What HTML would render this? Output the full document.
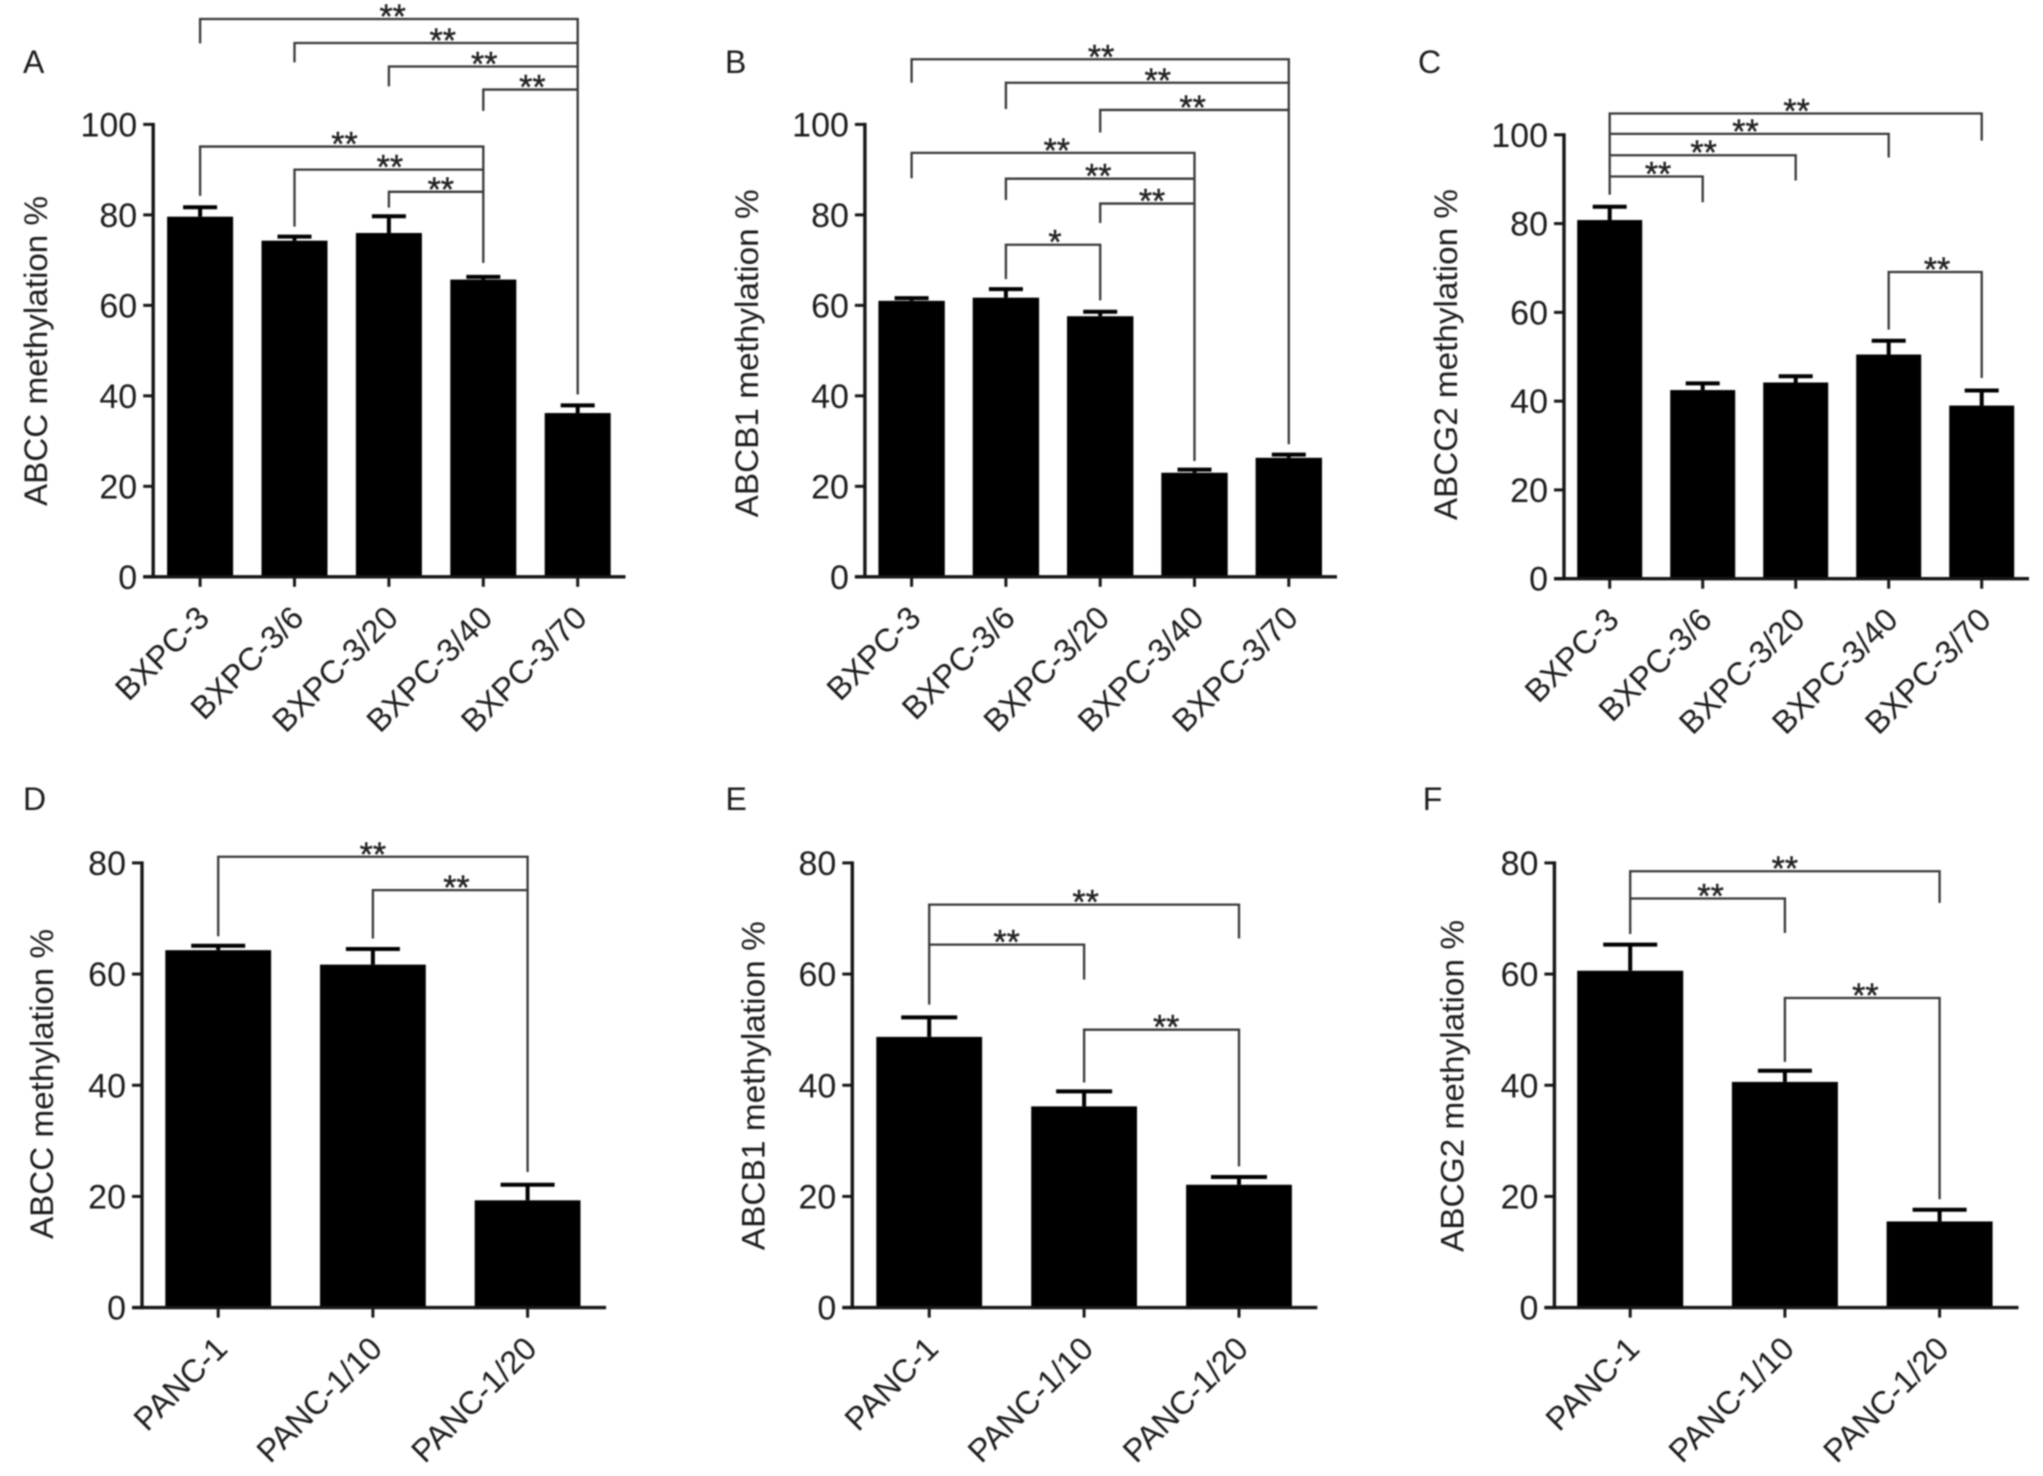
<!DOCTYPE html>
<html lang="en">
<head>
<meta charset="utf-8">
<title>Methylation of ABC transporters in BXPC-3 and PANC-1 lines</title>
<style>
  html, body { margin: 0; padding: 0; background: #fff; }
  #figure { display: block; width: 2043px; height: 1476px; filter: blur(0.7px); font-family: "Liberation Sans", Arial, sans-serif; }
</style>
</head>
<body>
<svg id="figure" xmlns="http://www.w3.org/2000/svg" width="2043" height="1476" viewBox="0 0 2043 1476"></svg>
<script>
// ---------- Data ----------
const bxpcCategories = ['BXPC-3', 'BXPC-3/6', 'BXPC-3/20', 'BXPC-3/40', 'BXPC-3/70'];
const pancCategories = ['PANC-1', 'PANC-1/10', 'PANC-1/20'];
const bxpcTicks = [0, 20, 40, 60, 80, 100];
const pancTicks = [0, 20, 40, 60, 80];

const abccBxpcValues = [79.6, 74.3, 76.0, 65.7, 36.2];
const abccBxpcErrorTops = [81.7, 75.2, 79.7, 66.3, 37.9];
const abcb1BxpcValues = [61.0, 61.7, 57.6, 23.0, 26.3];
const abcb1BxpcErrorTops = [61.6, 63.6, 58.6, 23.7, 27.0];
const abcg2BxpcValues = [80.8, 42.5, 44.2, 50.5, 39.0];
const abcg2BxpcErrorTops = [83.8, 44.0, 45.6, 53.6, 42.4];
const abccPancValues = [64.3, 61.7, 19.3];
const abccPancErrorTops = [65.1, 64.5, 22.1];
const abcb1PancValues = [48.7, 36.2, 22.1];
const abcb1PancErrorTops = [52.2, 38.9, 23.5];
const abcg2PancValues = [60.6, 40.6, 15.5];
const abcg2PancErrorTops = [65.3, 42.6, 17.6];

// Significance brackets: category indexes, and heights in axis units.
const abccBxpcBrackets = [
  { from: 0, to: 4, level: 123.3, fromEnd: 117.9, toEnd: 40.3, mark: '**', at: 2.04 },
  { from: 1, to: 4, level: 118.0, fromEnd: 113.7, mark: '**', at: 2.57 },
  { from: 2, to: 4, level: 112.8, fromEnd: 108.4, mark: '**', at: 3.01 },
  { from: 3, to: 4, level: 107.7, fromEnd: 103.0, mark: '**', at: 3.52 },
  { from: 0, to: 3, level: 95.1, fromEnd: 84.2, toEnd: 69.4, mark: '**', at: 1.53 },
  { from: 1, to: 3, level: 90.0, fromEnd: 77.4, mark: '**', at: 2.01 },
  { from: 2, to: 3, level: 85.1, fromEnd: 81.6, mark: '**', at: 2.55 }
];
const abcb1BxpcBrackets = [
  { from: 0, to: 4, level: 114.4, fromEnd: 109.2, toEnd: 29.3, mark: '**', at: 2.01 },
  { from: 1, to: 4, level: 109.2, fromEnd: 103.4, mark: '**', at: 2.61 },
  { from: 2, to: 4, level: 103.2, fromEnd: 98.2, mark: '**', at: 2.98 },
  { from: 0, to: 3, level: 93.7, fromEnd: 88.1, toEnd: 25.6, mark: '**', at: 1.54 },
  { from: 1, to: 3, level: 88.0, fromEnd: 83.3, mark: '**', at: 1.98 },
  { from: 2, to: 3, level: 82.5, fromEnd: 78.2, mark: '**', at: 2.55 },
  { from: 1, to: 2, level: 73.4, fromEnd: 65.8, toEnd: 61.1, mark: '*', at: 1.52 }
];
const abcg2BxpcBrackets = [
  { from: 0, to: 4, level: 104.8, fromEnd: 86.5, toEnd: 98.7, mark: '**', at: 2.01 },
  { from: 0, to: 3, level: 100.2, toEnd: 94.9, mark: '**', at: 1.46 },
  { from: 0, to: 2, level: 95.4, toEnd: 89.7, mark: '**', at: 1.01 },
  { from: 0, to: 1, level: 90.6, toEnd: 84.8, mark: '**', at: 0.52 },
  { from: 3, to: 4, level: 69.1, fromEnd: 56.1, toEnd: 45.2, mark: '**', at: 3.52 }
];
const abccPancBrackets = [
  { from: 0, to: 2, level: 81.1, fromEnd: 66.8, toEnd: 24.4, mark: '**', at: 1.0 },
  { from: 1, to: 2, level: 75.1, fromEnd: 66.4, mark: '**', at: 1.54 }
];
const abcb1PancBrackets = [
  { from: 0, to: 2, level: 72.5, fromEnd: 54.5, toEnd: 66.4, mark: '**', at: 1.01 },
  { from: 0, to: 1, level: 65.3, toEnd: 59.0, mark: '**', at: 0.5 },
  { from: 1, to: 2, level: 50.0, fromEnd: 40.5, toEnd: 25.4, mark: '**', at: 1.53 }
];
const abcg2PancBrackets = [
  { from: 0, to: 2, level: 78.5, fromEnd: 67.2, toEnd: 72.8, mark: '**', at: 1.0 },
  { from: 0, to: 1, level: 73.6, toEnd: 67.4, mark: '**', at: 0.52 },
  { from: 1, to: 2, level: 55.7, fromEnd: 44.2, toEnd: 19.5, mark: '**', at: 1.52 }
];

// ---------- Panel definitions ----------
const panels = [
  { id: 'a', letter: 'A', letterX: 23, letterY: 73, title: 'ABCC methylation %',
    categories: bxpcCategories, values: abccBxpcValues, errorTops: abccBxpcErrorTops, ticks: bxpcTicks, brackets: abccBxpcBrackets,
    axisX: 153.2, axisEnd: 625.5, y0: 576.8, yMax: 124.4, first: 200.1, step: 94.4, barW: 66, cap: 17,
    titleX: 47, titleY: 351, titleLen: 310 },
  { id: 'b', letter: 'B', letterX: 725, letterY: 73, title: 'ABCB1 methylation %',
    categories: bxpcCategories, values: abcb1BxpcValues, errorTops: abcb1BxpcErrorTops, ticks: bxpcTicks, brackets: abcb1BxpcBrackets,
    axisX: 864.9, axisEnd: 1337, y0: 576.8, yMax: 124.4, first: 911.6, step: 94.3, barW: 66.4, cap: 17,
    titleX: 758, titleY: 353.4, titleLen: 328 },
  { id: 'c', letter: 'C', letterX: 1418, letterY: 73, title: 'ABCG2 methylation %',
    categories: bxpcCategories, values: abcg2BxpcValues, errorTops: abcg2BxpcErrorTops, ticks: bxpcTicks, brackets: abcg2BxpcBrackets,
    axisX: 1564, axisEnd: 2029, y0: 578.7, yMax: 134.8, first: 1609.7, step: 93, barW: 65, cap: 17,
    titleX: 1457, titleY: 354.6, titleLen: 331 },
  { id: 'd', letter: 'D', letterX: 23, letterY: 810, title: 'ABCC methylation %',
    categories: pancCategories, values: abccPancValues, errorTops: abccPancErrorTops, ticks: pancTicks, brackets: abccPancBrackets,
    axisX: 142, axisEnd: 606.1, y0: 1307.6, yMax: 862.9, first: 218.2, step: 154.7, barW: 105.8, cap: 27,
    titleX: 53, titleY: 1084, titleLen: 310 },
  { id: 'e', letter: 'E', letterX: 725.5, letterY: 810, title: 'ABCB1 methylation %',
    categories: pancCategories, values: abcb1PancValues, errorTops: abcb1PancErrorTops, ticks: pancTicks, brackets: abcb1PancBrackets,
    axisX: 852.3, axisEnd: 1317.3, y0: 1307.6, yMax: 862.9, first: 929.2, step: 154.9, barW: 105.8, cap: 28,
    titleX: 764.5, titleY: 1085.7, titleLen: 329 },
  { id: 'f', letter: 'F', letterX: 1422.7, letterY: 810, title: 'ABCG2 methylation %',
    categories: pancCategories, values: abcg2PancValues, errorTops: abcg2PancErrorTops, ticks: pancTicks, brackets: abcg2PancBrackets,
    axisX: 1554.4, axisEnd: 2018.5, y0: 1307.6, yMax: 862.9, first: 1630.2, step: 154.7, barW: 106, cap: 27,
    titleX: 1463.5, titleY: 1086, titleLen: 332 }
];

const NS = 'http://www.w3.org/2000/svg';
const svg = document.getElementById('figure');
const AXIS = '#161616', BRACKET = '#383838', TEXT = '#1c1c1c';

function shape(parent, tag, attrs, text) {
  const el = document.createElementNS(NS, tag);
  for (const key in attrs) el.setAttribute(key, attrs[key]);
  if (text !== undefined) el.textContent = text;
  parent.appendChild(el);
  return el;
}

function drawPanel(p) {
  const top = p.ticks[p.ticks.length - 1];
  const yScale = v => p.y0 - (v / top) * (p.y0 - p.yMax);
  const xScale = i => p.first + i * p.step;

  const g = shape(svg, 'g', {});
  
  

  const letter = shape(g, 'text', { x: p.letterX, y: p.letterY, 'font-size': 32, fill: TEXT }, p.letter);
  
  

  const title = shape(g, 'text', {
    transform: 'translate(' + p.titleX + ' ' + p.titleY + ') rotate(-90)',
    'text-anchor': 'middle', 'font-size': 32, fill: TEXT,
    textLength: p.titleLen, lengthAdjust: 'spacingAndGlyphs'
  }, p.title);
  
  

  // Bars and error bars
  p.values.forEach((v, i) => {
    const cx = xScale(i);
    const bar = shape(g, 'rect', { x: cx - p.barW / 2, y: yScale(v), width: p.barW, height: p.y0 - yScale(v), fill: '#000' });
    
    

    const stem = shape(g, 'line', { x1: cx, x2: cx, y1: yScale(v), y2: yScale(p.errorTops[i]), stroke: '#000', 'stroke-width': 4 });
    
    

    const cap = shape(g, 'line', { x1: cx - p.cap, x2: cx + p.cap, y1: yScale(p.errorTops[i]), y2: yScale(p.errorTops[i]), stroke: '#000', 'stroke-width': 4 });
    
    
  });

  // Axes
  const yAxis = shape(g, 'line', { x1: p.axisX, x2: p.axisX, y1: yScale(top) - 1.5, y2: p.y0 + 1.5, stroke: AXIS, 'stroke-width': 3.4 });
  
  

  const xAxis = shape(g, 'line', { x1: p.axisX - 10, x2: p.axisEnd, y1: p.y0, y2: p.y0, stroke: AXIS, 'stroke-width': 3.4 });
  
  

  p.ticks.forEach(t => {
    const tick = shape(g, 'line', { x1: p.axisX - 10, x2: p.axisX, y1: yScale(t), y2: yScale(t), stroke: AXIS, 'stroke-width': 3 });
    
    

    const label = shape(g, 'text', { x: p.axisX - 16, y: yScale(t) + 12, 'text-anchor': 'end', 'font-size': 34, fill: TEXT }, String(t));
    
    
  });

  p.categories.forEach((c, i) => {
    const cx = xScale(i);
    const tick = shape(g, 'line', { x1: cx, x2: cx, y1: p.y0, y2: p.y0 + 10, stroke: AXIS, 'stroke-width': 3 });
    
    

    const label = shape(g, 'text', {
      transform: 'translate(' + (cx + 11) + ' ' + (p.y0 + 43) + ') rotate(-45)',
      'text-anchor': 'end', 'font-size': 32.3, fill: TEXT
    }, c);
    
    
  });

  // Significance brackets
  p.brackets.forEach((b, n) => {
    const lineY = yScale(b.level);
    const fromY = b.fromEnd === undefined ? lineY : yScale(b.fromEnd);
    const toY = b.toEnd === undefined ? lineY : yScale(b.toEnd);
    const d = 'M' + xScale(b.from) + ' ' + fromY + 'L' + xScale(b.from) + ' ' + lineY +
              'L' + xScale(b.to) + ' ' + lineY + 'L' + xScale(b.to) + ' ' + toY;
    const line = shape(g, 'path', { d: d, fill: 'none', stroke: BRACKET, 'stroke-width': 2.3 });
    
    

    const mark = shape(g, 'text', { x: xScale(b.at), y: lineY + 9, 'text-anchor': 'middle', 'font-size': 34, fill: '#222', stroke: '#222', 'stroke-width': 0.4 }, b.mark);
    
    
  });
}

panels.forEach(drawPanel);
</script>
</body>
</html>
